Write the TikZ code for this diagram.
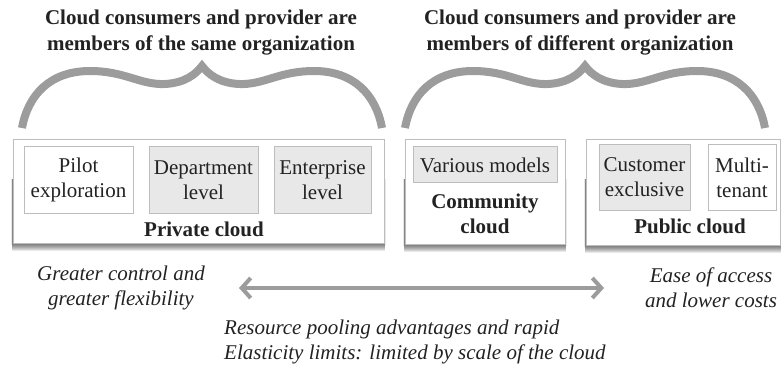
\documentclass[tikz,border=0pt]{standalone}
\usepackage{fontspec}
\setmainfont{Liberation Serif}
\usetikzlibrary{arrows.meta,backgrounds}
\definecolor{bracegray}{HTML}{9C9C9C}
\definecolor{boxline}{HTML}{BDBDBD}
\definecolor{boxfill}{HTML}{E8E8E8}
\definecolor{txt}{HTML}{222222}
\tikzset{
  bigfont/.style={font=\fontsize{21}{25}\selectfont},
  title/.style={font=\fontsize{21}{26}\selectfont\bfseries, text=txt, align=center, inner sep=0pt},
  brace/.style={draw=bracegray, line width=8pt, line cap=butt, line join=miter},
  outerbox/.style={draw=boxline, line width=1pt, fill=white},
  shadowpiece/.style={fill=black, opacity=0.09},
  innerwhite/.style={draw=boxline, line width=1pt, fill=white, bigfont, text=txt, align=center, inner sep=0pt},
  innergray/.style={draw=boxline, line width=1pt, fill=boxfill, bigfont, text=txt, align=center, inner sep=0pt},
  lbl/.style={font=\fontsize{21}{25}\selectfont\bfseries, text=txt, align=center, inner sep=0pt},
  itl/.style={font=\fontsize{21}{25}\selectfont\itshape, text=txt, inner sep=0pt},
  bigarrow/.style={draw=bracegray, line width=4pt, {Straight Barb[length=9pt,width=20pt]}-{Straight Barb[length=9pt,width=20pt]}}
}
\begin{document}
\begin{tikzpicture}[x=1pt,y=-1pt]
\useasboundingbox (0,0) rectangle (781,366);

% titles
\node[title] (t1) at (201,33) {Cloud consumers and provider are\\members of the same organization};
\node[title] (t2) at (580,33) {Cloud consumers and provider are\\members of different organization};

% braces
\draw[brace] (22,128) .. controls (28,95) and (50,71) .. (90,71)
  .. controls (125,71) and (140,85) .. (165,84)
  .. controls (185,83) and (196,74) .. (202,66)
  .. controls (208,74) and (219,83) .. (239,84)
  .. controls (264,85) and (279,71) .. (314,71)
  .. controls (354,71) and (376,95) .. (382,128);
\draw[brace] (405,128) .. controls (411,95) and (433,71) .. (473,71)
  .. controls (508,71) and (523,85) .. (548,84)
  .. controls (568,83) and (579,74) .. (585,66)
  .. controls (591,74) and (602,83) .. (622,84)
  .. controls (647,85) and (662,71) .. (697,71)
  .. controls (737,71) and (759,95) .. (765,128);

% outer boxes
\node[outerbox, minimum width=371pt, minimum height=103pt] (priv) at (198.5,191.5) {};
\node[outerbox, minimum width=160pt, minimum height=104pt] (comm) at (485,192) {};
\node[outerbox, minimum width=194pt, minimum height=105pt] (pub) at (683,192.5) {};

% shadows under the outer boxes
\begin{scope}[on background layer]
\foreach \b in {priv,comm,pub}{
  \foreach \k in {1,2,3,4,5,6,7}{
    \fill[shadowpiece] ([xshift={-1.2pt+0.15pt*\k}, yshift={-\k pt}]\b.south west)
      rectangle ([xshift={1.2pt-0.15pt*\k}, yshift=-40pt]\b.north east);
  }
}
\end{scope}

% inner boxes
\node[innerwhite, minimum width=109pt, minimum height=66pt] (pilot) at (78.5,180) {Pilot\\exploration};
\node[innergray, minimum width=109pt, minimum height=66pt] (dept) at (203.5,180) {Department\\level};
\node[innergray, minimum width=97pt, minimum height=66pt] (ent) at (322.5,180) {Enterprise\\level};
\node[innergray, minimum width=144pt, minimum height=36pt] (various) at (485,165) {Various models};
\node[innergray, minimum width=91pt, minimum height=65pt] (cust) at (644.5,177.5) {Customer\\exclusive};
\node[innerwhite, minimum width=68pt, minimum height=65pt] (multi) at (742,177.5) {Multi-\\tenant};

% box labels
\node[lbl, anchor=base] (privlbl) at (204,236) {Private cloud};
\node[lbl] (commlbl) at (485,214) {Community\\cloud};
\node[lbl, anchor=base] (publbl) at (690,233) {Public cloud};

% bottom texts
\node[itl, align=center] (left) at (121,288) {Greater control and\\greater flexibility};
\node[itl, align=center] (right) at (711,288) {Ease of access\\and lower costs};
\node[itl, align=left, anchor=west] (bottom) at (224,342) {Resource pooling advantages and rapid\\Elasticity limits: limited by scale of the cloud};

% arrow
\coordinate (aL) at (239,288);
\coordinate (aR) at (604,288);
\draw[bigarrow] (aL) -- (aR);
\end{tikzpicture}
\end{document}
